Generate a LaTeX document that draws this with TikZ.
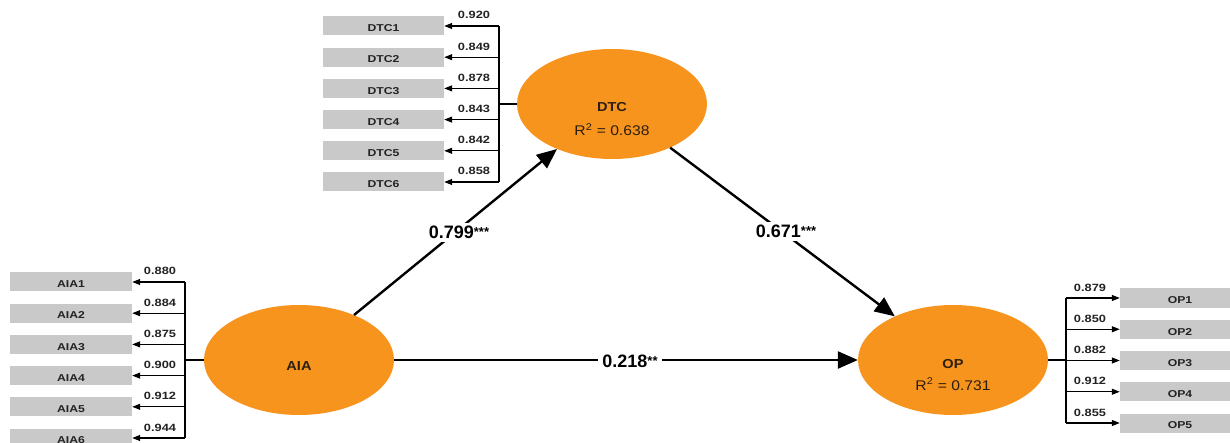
\documentclass[tikz,border=0pt]{standalone}
\usepackage{fontspec}
\setmainfont{Liberation Sans}
\newfontfamily\lblfont[FakeStretch=1.22]{Liberation Sans}
\newfontfamily\ellfont[FakeStretch=1.12]{Liberation Sans}
\usetikzlibrary{shapes.geometric,arrows.meta}
\definecolor{plsorange}{RGB}{247,148,29}
\definecolor{boxgray}{RGB}{201,201,201}
\definecolor{txtdark}{RGB}{45,30,15}
\definecolor{lbldark}{RGB}{35,35,35}
\begin{document}
\begin{tikzpicture}[x=1pt,y=-1pt,
  latent/.style={ellipse, fill=plsorange, draw=none, minimum width=190pt, minimum height=110pt, inner sep=0pt},
  indicator/.style={fill=boxgray, minimum height=19pt, inner sep=0pt, text height=11.5pt, text depth=0pt,
    font=\lblfont\bfseries\fontsize{10}{10}\selectfont, text=lbldark},
  loading/.style={anchor=base, inner sep=0pt, font=\lblfont\bfseries\fontsize{10.5}{11}\selectfont, text=lbldark},
  ind/.style={line width=1.1pt, -{Triangle[length=8pt,width=6pt]}},
  link/.style={line width=1.1pt},
  structural/.style={line width=2.4pt, -{Triangle[length=20pt,width=17pt]}},
  pathlbl/.style={anchor=base, fill=white, inner xsep=4pt, inner ysep=3pt, font=\bfseries\fontsize{18}{18}\selectfont, text=black},
  latname/.style={anchor=base, inner sep=0pt, font=\ellfont\bfseries\fontsize{13}{13}\selectfont, text=txtdark},
  latr/.style={anchor=base, inner sep=0pt, font=\ellfont\fontsize{14}{14}\selectfont, text=txtdark}
]
\useasboundingbox (0,0) rectangle (1230,443);
\clip (0,0) rectangle (1230,443);
\fill[white] (0,0) rectangle (1230,443);

% latent variables
\node[latent] (AIA) at (299,360) {};
\node[latent] (DTC) at (612,104) {};
\node[latent] (OP) at (953,360) {};

\node[latname] (nAIA) at (299,370) {AIA};
\node[latname] (nDTC) at (612,112) {DTC};
\node[latr] (rDTC) at (612,136) {R\textsuperscript{2} = 0.638};
\node[latname] (nOP) at (953,368) {OP};
\node[latr] (rOP) at (953,390) {R\textsuperscript{2} = 0.731};

% AIA indicators
\coordinate (jA) at (185,360);
\foreach \i/\v in {1/0.880,2/0.884,3/0.875,4/0.900,5/0.912,6/0.944} {
  \pgfmathsetmacro\yy{282+31.2*(\i-1)}
  \node[indicator, minimum width=122pt] (AIA\i) at (71,\yy) {AIA\i};
  \coordinate (jA\i) at (185,\yy);
  \draw[ind] (jA\i) -- (AIA\i.east);
  \node[loading] (lA\i) at (160,\yy-7) {\v};
}
\draw[link] (jA1) -- (jA6);
\draw[link] (AIA.west) -- (jA);

% DTC indicators
\coordinate (jD) at (499,104);
\foreach \i/\v in {1/0.920,2/0.849,3/0.878,4/0.843,5/0.842,6/0.858} {
  \pgfmathsetmacro\yy{26+31.2*(\i-1)}
  \node[indicator, minimum width=121pt] (DTC\i) at (383.5,\yy) {DTC\i};
  \coordinate (jD\i) at (499,\yy);
  \draw[ind] (jD\i) -- (DTC\i.east);
  \node[loading] (lD\i) at (474,\yy-7) {\v};
}
\draw[link] (jD1) -- (jD6);
\draw[link] (DTC.west) -- (jD);

% OP indicators
\coordinate (jO) at (1066,360);
\foreach \i/\v in {1/0.879,2/0.850,3/0.882,4/0.912,5/0.855} {
  \pgfmathsetmacro\yy{298+31.25*(\i-1)}
  \node[indicator, minimum width=120pt] (OP\i) at (1180,\yy) {OP\i};
  \coordinate (jO\i) at (1066,\yy);
  \draw[ind] (jO\i) -- (OP\i.west);
  \node[loading] (lO\i) at (1090,\yy-7) {\v};
}
\draw[link] (jO1) -- (jO5);
\draw[link] (OP.east) -- (jO);

% structural paths
\draw[structural] (AIA) -- (DTC);
\draw[structural] (DTC) -- (OP);
\draw[structural] (AIA) -- (OP);

\node[pathlbl] (p1) at (459,239) {0.799\smash{\raisebox{2pt}{\fontsize{13}{13}\selectfont ***}}};
\node[pathlbl] (p2) at (786,238) {0.671\smash{\raisebox{2pt}{\fontsize{13}{13}\selectfont ***}}};
\node[pathlbl] (p3) at (630,367) {0.218\smash{\raisebox{2pt}{\fontsize{13}{13}\selectfont **}}};
\end{tikzpicture}
\end{document}
